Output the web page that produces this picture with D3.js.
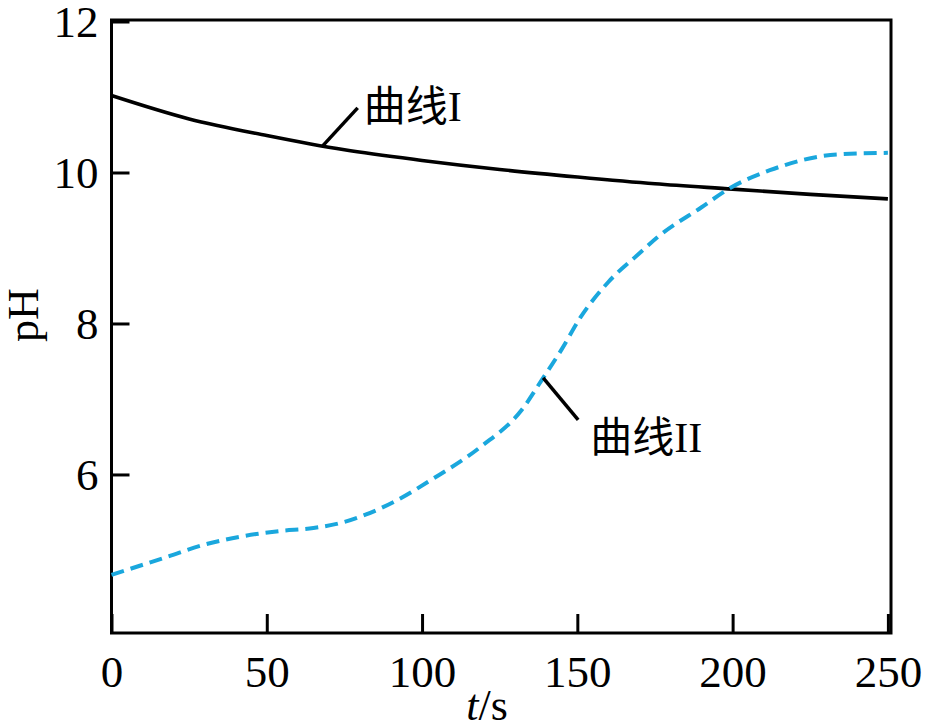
<!DOCTYPE html>
<html>
<head>
<meta charset="utf-8">
<script src="https://cdn.jsdelivr.net/npm/d3@7"></script>
<style>
  body { margin: 0; background: #fff; }
  text { font-family: "Liberation Serif", "Noto Sans CJK SC", serif; fill: #000; }
</style>
</head>
<body>
<div id="chart"></div>
<script>
// data
const curveI_t  = [0, 25, 50, 75, 100, 125, 150, 175, 200, 225, 250];
const curveI_pH = [11.02, 10.71, 10.49, 10.30, 10.16, 10.04, 9.94, 9.85, 9.78, 9.71, 9.65];

const curveII_t  = [0, 18, 29, 42, 54, 65, 74, 82, 92, 103, 119, 132, 139, 145, 151, 160, 170, 176, 190, 199, 212, 234, 250];
const curveII_pH = [4.67, 4.91, 5.06, 5.18, 5.25, 5.29, 5.36, 5.47, 5.66, 5.93, 6.37, 6.85, 7.28, 7.66, 8.08, 8.55, 8.93, 9.15, 9.54, 9.79, 10.03, 10.24, 10.26];

const xTicks = [0, 50, 100, 150, 200, 250];
const yTicks = [6, 8, 10, 12];

const svgWidth = 928, svgHeight = 726;
const margin = { top: 20, right: 37, bottom: 93, left: 111.5 };
const width = svgWidth - margin.left - margin.right;
const height = svgHeight - margin.top - margin.bottom;

const svg = d3.select("#chart").append("svg")
  .attr("width", svgWidth)
  .attr("height", svgHeight);

const g = svg.append("g").attr("transform", `translate(${margin.left},${margin.top})`);

const x = d3.scaleLinear().domain([0, 251]).range([0, width]);
const y = d3.scaleLinear().domain([3.9, 12.02]).range([height, 0]);

// ticks point inward
const xAxis = g.append("g")
  .attr("transform", `translate(0,${height})`)
  .call(d3.axisBottom(x).tickValues(xTicks).tickSizeInner(-19).tickSizeOuter(0).tickPadding(30));
const yAxis = g.append("g")
  .call(d3.axisLeft(y).tickValues(yTicks).tickSizeInner(-18).tickSizeOuter(0).tickPadding(13));

[xAxis, yAxis].forEach(a => {
  a.select(".domain").remove();
  a.selectAll("line").attr("stroke", "#000").attr("stroke-width", 3);
  a.selectAll("text").attr("font-size", 45).attr("font-family", "Liberation Serif");
});
xAxis.selectAll("text").attr("dy", "0.71em").attr("y", 22);
yAxis.selectAll("text").attr("dy", "0.33em");

// frame
g.append("rect")
  .attr("width", width).attr("height", height)
  .attr("fill", "none").attr("stroke", "#000").attr("stroke-width", 3);

const line = d3.line()
  .x(d => x(d[0]))
  .y(d => y(d[1]))
  .curve(d3.curveMonotoneX);

g.append("path")
  .datum(curveI_t.map((t, i) => [t, curveI_pH[i]]))
  .attr("d", line)
  .attr("fill", "none").attr("stroke", "#000").attr("stroke-width", 3.6);

g.append("path")
  .datum(curveII_t.map((t, i) => [t, curveII_pH[i]]))
  .attr("d", line)
  .attr("fill", "none").attr("stroke", "#1aa7dd").attr("stroke-width", 4)
  .attr("stroke-dasharray", "13,7");

// callouts
const interp = (ts, vs, t) => {
  const i = d3.bisectRight(ts, t) - 1;
  const f = (t - ts[i]) / (ts[i + 1] - ts[i]);
  return vs[i] + f * (vs[i + 1] - vs[i]);
};

const p1 = [x(68), y(interp(curveI_t, curveI_pH, 68))];
g.append("line")
  .attr("x1", p1[0]).attr("y1", p1[1])
  .attr("x2", p1[0] + 35).attr("y2", p1[1] - 38)
  .attr("stroke", "#000").attr("stroke-width", 3.5);
g.append("text")
  .attr("x", p1[0] + 41).attr("y", p1[1] - 25)
  .attr("font-size", 42)
  .text("曲线I");

const p2 = [x(139), y(interp(curveII_t, curveII_pH, 139))];
g.append("line")
  .attr("x1", p2[0]).attr("y1", p2[1])
  .attr("x2", p2[0] + 35).attr("y2", p2[1] + 42)
  .attr("stroke", "#000").attr("stroke-width", 3.5);
g.append("text")
  .attr("x", p2[0] + 47).attr("y", p2[1] + 74)
  .attr("font-size", 42)
  .text("曲线II");

// axis titles
const xt = svg.append("text")
  .attr("x", 487).attr("y", 720)
  .attr("text-anchor", "middle")
  .attr("font-size", 44);
xt.append("tspan").attr("font-style", "italic").text("t");
xt.append("tspan").text("/s");

svg.append("text")
  .attr("transform", "translate(38,315) rotate(-90)")
  .attr("text-anchor", "middle")
  .attr("font-size", 44)
  .text("pH");
</script>
</body>
</html>
